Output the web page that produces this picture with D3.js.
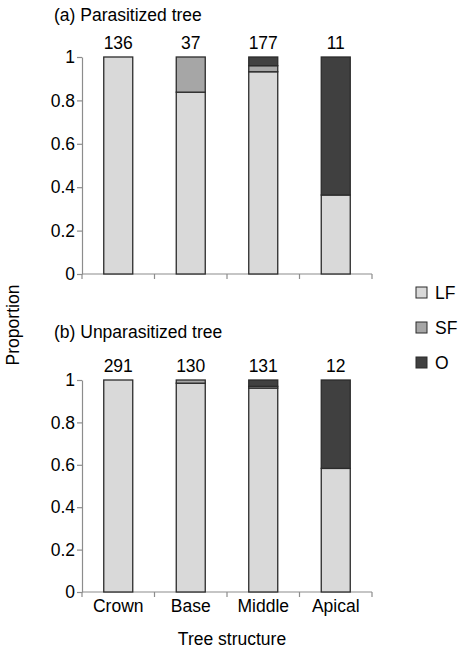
<!DOCTYPE html>
<html>
<head>
<meta charset="utf-8">
<script src="https://cdn.jsdelivr.net/npm/d3@7"></script>
<style>
  html, body { margin: 0; padding: 0; background: #fff; }
  svg { display: block; font-family: "Liberation Sans", Arial, sans-serif; }
</style>
</head>
<body>
<svg id="chart" width="458" height="648"></svg>
<script>
// Tree structure positions along the x axis
const categories = ["Crown", "Base", "Middle", "Apical"];
const seriesKeys = ["LF", "SF", "O"];
const seriesColors = ["#d9d9d9", "#a6a6a6", "#404040"];
const yTicks = [0, 0.2, 0.4, 0.6, 0.8, 1];

// (a) Parasitized tree: proportions per category
const parasitizedLF = [1, 0.838, 0.932, 0.364];
const parasitizedSF = [0, 0.162, 0.028, 0];
const parasitizedO  = [0, 0, 0.040, 0.636];
const parasitizedN  = [136, 37, 177, 11];

// (b) Unparasitized tree: proportions per category
const unparasitizedLF = [1, 0.985, 0.962, 0.583];
const unparasitizedSF = [0, 0.015, 0.008, 0];
const unparasitizedO  = [0, 0, 0.030, 0.417];
const unparasitizedN  = [291, 130, 131, 12];

const svg = d3.select("#chart");
const FONT = 17.5;
const textColor = "#000";
const axisColor = "#8c8c8c";

const x = d3.scaleBand().domain(categories).range([82, 372]).paddingInner(0).paddingOuter(0);
const barW = x.bandwidth() * 0.4;

function panel(title, titleY, yRange, lf, sf, o, n, showLabels) {
  const y = d3.scaleLinear().domain([0, 1]).range(yRange);
  const g = svg.append("g");

  const rows = categories.map((c, i) => ({ cat: c, LF: lf[i], SF: sf[i], O: o[i], n: n[i] }));
  const stacked = d3.stack().keys(seriesKeys)(rows);

  // y axis
  const yAxis = g.append("g")
    .attr("transform", `translate(${x.range()[0]},0)`)
    .call(d3.axisLeft(y).tickValues(yTicks).tickFormat(d3.format("~g")).tickSize(5).tickPadding(2).tickSizeOuter(0));
  yAxis.select(".domain").attr("stroke", axisColor).attr("stroke-width", 1.2);
  yAxis.selectAll(".tick line").attr("stroke", axisColor).attr("stroke-width", 1.2);
  yAxis.selectAll(".tick text").attr("fill", textColor).style("font-size", FONT + "px")
    .style("font-family", "'Liberation Sans', Arial, sans-serif");

  // x axis: baseline with ticks at category boundaries
  const y0 = y(0);
  g.append("line").attr("x1", x.range()[0]).attr("x2", x.range()[1])
    .attr("y1", y0).attr("y2", y0).attr("stroke", axisColor).attr("stroke-width", 1.2);
  const bounds = categories.map(c => x(c)).concat([x.range()[1]]);
  g.selectAll(".xtick").data(bounds).enter().append("line")
    .attr("x1", d => d).attr("x2", d => d).attr("y1", y0).attr("y2", y0 + 5)
    .attr("stroke", axisColor).attr("stroke-width", 1.2);

  // stacked bars
  stacked.forEach((layer, li) => {
    g.selectAll(".bar-" + li).data(layer.filter(d => d[1] - d[0] > 0)).enter().append("rect")
      .attr("x", d => x(d.data.cat) + (x.bandwidth() - barW) / 2)
      .attr("width", barW)
      .attr("y", d => y(d[1]))
      .attr("height", d => y(d[0]) - y(d[1]))
      .attr("fill", seriesColors[li])
      .attr("stroke", "#2b2b2b")
      .attr("stroke-width", 1.3);
  });

  // sample sizes above bars
  g.selectAll(".count").data(rows).enter().append("text")
    .attr("x", d => x(d.cat) + x.bandwidth() / 2)
    .attr("y", y(1) - 8)
    .attr("text-anchor", "middle")
    .style("font-size", FONT + "px").attr("fill", textColor)
    .text(d => d.n);

  // panel title
  g.append("text").attr("x", 54).attr("y", titleY)
    .style("font-size", FONT + "px").attr("fill", textColor).text(title);

  if (showLabels) {
    g.selectAll(".cat").data(categories).enter().append("text")
      .attr("x", d => x(d) + x.bandwidth() / 2)
      .attr("y", y0 + 20)
      .attr("text-anchor", "middle")
      .style("font-size", FONT + "px").attr("fill", textColor)
      .text(d => d);
  }
}

panel("(a) Parasitized tree", 21, [274, 57], parasitizedLF, parasitizedSF, parasitizedO, parasitizedN, false);
panel("(b) Unparasitized tree", 338, [592, 380], unparasitizedLF, unparasitizedSF, unparasitizedO, unparasitizedN, true);

// axis titles
svg.append("text").attr("x", 232).attr("y", 645).attr("text-anchor", "middle")
  .style("font-size", FONT + "px").attr("fill", textColor).text("Tree structure");
svg.append("text").attr("transform", "translate(19,325) rotate(-90)").attr("text-anchor", "middle")
  .style("font-size", FONT + "px").attr("fill", textColor).text("Proportion");

// legend
const legend = svg.append("g").selectAll("g").data(seriesKeys).enter().append("g")
  .attr("transform", (d, i) => `translate(416,${287 + i * 35})`);
legend.append("rect").attr("width", 11).attr("height", 11)
  .attr("fill", (d, i) => seriesColors[i]).attr("stroke", "#2b2b2b").attr("stroke-width", 1);
legend.append("text").attr("x", 19).attr("y", 11.5)
  .style("font-size", FONT + "px").attr("fill", textColor).text(d => d);
</script>
</body>
</html>
